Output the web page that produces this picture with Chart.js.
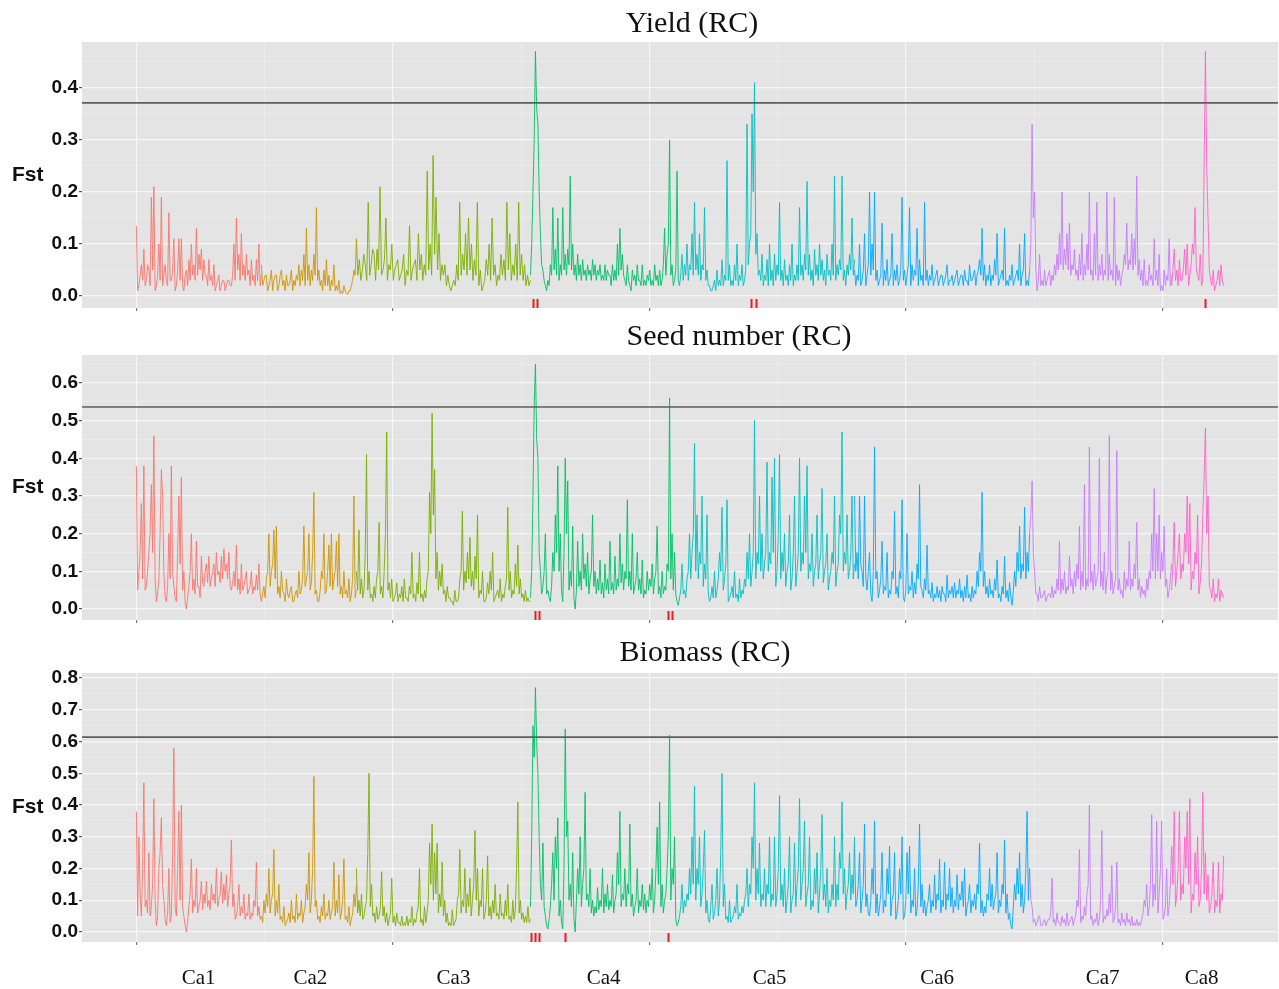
<!DOCTYPE html>
<html>
<head>
<meta charset="utf-8">
<title>Fst scan (RC)</title>
<script src="https://cdn.jsdelivr.net/npm/chart.js@4/dist/chart.umd.min.js"></script>
<style>
  html, body { margin: 0; padding: 0; background: #ffffff; }
  body { width: 1279px; height: 989px; position: relative; overflow: hidden; }
  .panel { position: absolute; left: 0; }
  canvas { display: block; }
</style>
</head>
<body>
<div class="panel" style="top:0px"><canvas id="yieldChart" width="1279" height="320"></canvas></div>
<div class="panel" style="top:320px"><canvas id="seedChart" width="1279" height="310"></canvas></div>
<div class="panel" style="top:630px"><canvas id="biomassChart" width="1279" height="359"></canvas></div>
<script>
// ---- chromosomes (genome position units, each chromosome laid end to end) ----
const chromNames  = ['Ca1', 'Ca2', 'Ca3', 'Ca4', 'Ca5', 'Ca6', 'Ca7', 'Ca8'];
const chromColors = ['#F8766D', '#CD9600', '#7CAE00', '#00BE67', '#00BFC4', '#00A9FF', '#C77CFF', '#FF61CC'];
const chromEdges  = [0, 48.73, 85.77, 153.61, 211.70, 279.92, 348.15, 403.51, 423.78];
const chromLabelAt = [24.3, 67.8, 123.6, 182.1, 246.8, 312.1, 376.6, 415.2];
const genomeLength = 423.78;
const xGridAt = [0, 50, 100, 150, 200, 250, 300, 350, 400];

// ---- Fst windows: Yield (RC) ----
const yieldCa1 = [.135,.01,.02,.04,.06,.03,.09,.02,.03,.06,.05,.02,.19,.05,.21,.01,.02,.04,.10,.03,.19,.02,.04,.06,.03,.02,.16,.03,.03,.05,.11,.01,.02,.05,.11,.03,.11,.02,.01,.04,.05,.02,.07,.03,.10,.04,.06,.03,.13,.04,.08,.05,.09,.03,.07,.04,.04,.02,.07,.03,.04,.02,.06,.01,.02,.03,.04,.01,.02,.03,.03,.01,.02,.03,.03,.02,.02,.04,.10,.03,.15,.05,.08,.03,.12,.04,.06,.03,.08,.04,.05,.02,.07,.03,.04,.02,.07,.03,.10,.02,.04];
const yieldCa2 = [.06,.02,.03,.04,.04,.01,.02,.03,.05,.01,.03,.04,.04,.01,.02,.04,.05,.02,.03,.01,.04,.02,.02,.03,.05,.01,.03,.02,.04,.03,.06,.02,.05,.03,.08,.02,.13,.03,.06,.02,.05,.03,.08,.04,.17,.03,.05,.02,.03,.01,.05,.02,.07,.02,.04,.01,.03,.02,.06,.01,.02,.01,.03,.005,.01,.005,.02,.01,.005,.003,.01,.01,.02,.03,.05,.04,.11];
const yieldCa3 = [.11,.04,.07,.03,.05,.08,.06,.03,.18,.04,.06,.09,.08,.03,.09,.05,.21,.04,.05,.07,.15,.03,.06,.05,.10,.03,.05,.06,.07,.03,.04,.05,.08,.02,.05,.04,.135,.03,.05,.06,.07,.03,.12,.05,.08,.03,.06,.04,.24,.05,.10,.04,.27,.08,.19,.05,.12,.03,.06,.04,.06,.02,.04,.02,.01,.02,.03,.02,.06,.03,.18,.04,.08,.05,.12,.04,.15,.05,.10,.03,.07,.04,.18,.02,.05,.01,.02,.03,.07,.04,.10,.03,.15,.04,.06,.02,.04,.03,.08,.04,.07,.03,.18,.05,.12,.03,.06,.04,.10,.03,.18,.04,.08,.03,.06,.02,.04,.02,.03];
const yieldCa4 = [.04,.10,.20,.30,.47,.36,.33,.20,.12,.06,.05,.03,.02,.01,.03,.02,.06,.04,.17,.05,.09,.04,.15,.03,.06,.04,.17,.05,.08,.04,.09,.06,.23,.05,.10,.04,.06,.03,.08,.04,.06,.03,.07,.04,.05,.03,.06,.04,.05,.03,.07,.04,.06,.03,.05,.04,.06,.03,.04,.03,.06,.03,.05,.04,.04,.02,.06,.03,.05,.03,.10,.04,.13,.05,.08,.04,.03,.02,.06,.03,.02,.01,.05,.03,.04,.02,.06,.03,.03,.02,.06,.02,.03,.02,.04,.03,.05,.02,.03,.02,.06,.03,.04,.02,.05,.02,.03,.06,.13,.04,.08,.10,.30,.04,.06,.02,.03,.05,.24,.03,.02];
const yieldCa5 = [.02,.04,.08,.03,.06,.04,.10,.03,.06,.05,.12,.04,.18,.05,.08,.04,.12,.03,.06,.05,.17,.03,.05,.02,.02,.01,.01,.02,.03,.01,.05,.02,.03,.02,.07,.02,.04,.03,.26,.03,.06,.02,.03,.02,.06,.03,.10,.02,.04,.03,.06,.02,.03,.05,.33,.06,.10,.12,.35,.20,.41,.08,.12,.04,.05,.03,.08,.02,.04,.03,.07,.02,.10,.03,.05,.02,.08,.03,.06,.04,.18,.03,.05,.02,.07,.03,.04,.02,.06,.03,.10,.02,.04,.03,.06,.03,.17,.04,.06,.03,.08,.05,.22,.04,.08,.03,.05,.02,.09,.04,.06,.03,.10,.04,.07,.03,.05,.02,.08,.04,.05,.03,.10,.04,.23,.03,.06,.04,.07,.05,.23,.03,.05,.02,.06,.04,.08,.05,.15,.04,.07];
const yieldCa6 = [.05,.02,.04,.03,.10,.02,.03,.05,.12,.02,.04,.06,.20,.04,.10,.05,.20,.03,.05,.02,.03,.04,.14,.02,.05,.03,.07,.02,.03,.04,.12,.02,.05,.03,.06,.02,.03,.05,.19,.03,.05,.02,.04,.06,.17,.02,.06,.03,.05,.04,.13,.02,.07,.03,.04,.02,.18,.03,.05,.02,.04,.03,.06,.02,.03,.04,.05,.02,.03,.04,.04,.02,.03,.04,.06,.02,.03,.03,.04,.02,.03,.04,.05,.02,.03,.04,.04,.02,.05,.03,.03,.02,.06,.03,.03,.04,.05,.02,.04,.05,.07,.04,.13,.03,.06,.02,.04,.03,.06,.02,.04,.03,.07,.04,.12,.02,.03,.04,.05,.03,.13,.02,.03,.02,.04,.03,.06,.02,.03,.04,.05,.03,.10,.02,.04,.05,.12,.02,.03,.02,.05];
const yieldCa7 = [.05,.10,.33,.15,.20,.05,.01,.03,.08,.02,.03,.02,.05,.02,.03,.04,.05,.02,.04,.03,.06,.04,.08,.05,.12,.06,.20,.05,.09,.06,.12,.05,.14,.04,.06,.05,.09,.04,.05,.03,.08,.04,.12,.03,.06,.04,.10,.05,.20,.04,.05,.03,.12,.04,.18,.03,.06,.04,.08,.03,.05,.04,.20,.03,.08,.04,.05,.03,.19,.02,.06,.03,.05,.02,.04,.05,.08,.06,.14,.05,.07,.06,.12,.05,.11,.06,.23,.04,.07,.03,.05,.02,.07,.02,.03,.02,.06,.03,.04,.02,.11,.03,.05,.02,.08,.01,.02,.01,.05,.02,.04,.03,.11,.02,.04];
const yieldCa8 = [.02,.05,.09,.03,.05,.02,.07,.03,.03,.05,.09,.04,.10,.02,.04,.06,.10,.08,.17,.05,.04,.03,.08,.02,.03,.25,.47,.25,.15,.05,.03,.02,.05,.01,.02,.03,.05,.02,.06,.03,.02];
const yieldHits = [154.7, 156.2, 239.6, 241.6, 416.6];
const yieldThreshold = 0.371;

// ---- Fst windows: Seed number (RC) ----
const seedCa1 = [.38,.05,.10,.15,.28,.08,.38,.05,.06,.10,.15,.20,.33,.15,.46,.08,.02,.04,.08,.20,.37,.30,.10,.03,.02,.06,.20,.08,.38,.10,.06,.03,.02,.15,.30,.12,.35,.05,.10,.02,.00,.03,.06,.10,.20,.05,.08,.04,.18,.06,.06,.03,.14,.07,.06,.10,.12,.07,.14,.06,.08,.10,.12,.06,.15,.09,.10,.07,.14,.08,.16,.10,.12,.08,.15,.06,.05,.07,.10,.06,.17,.05,.08,.04,.12,.05,.06,.08,.10,.04,.05,.06,.10,.04,.06,.05,.09,.05,.12,.04,.02];
const seedCa2 = [.02,.04,.06,.03,.08,.10,.20,.06,.10,.12,.21,.08,.22,.04,.06,.03,.10,.05,.04,.02,.08,.04,.03,.05,.06,.02,.02,.04,.05,.03,.10,.04,.05,.08,.22,.06,.08,.10,.20,.05,.07,.15,.31,.04,.05,.02,.02,.05,.10,.08,.20,.04,.05,.10,.17,.06,.20,.05,.08,.10,.18,.06,.20,.04,.06,.03,.10,.04,.05,.03,.08,.02,.04,.08,.30,.03,.05];
const seedCa3 = [.10,.05,.21,.04,.08,.03,.05,.15,.41,.05,.10,.03,.04,.02,.06,.03,.08,.10,.23,.04,.06,.03,.10,.20,.47,.05,.07,.03,.08,.02,.03,.04,.07,.02,.04,.03,.06,.02,.08,.03,.03,.02,.06,.04,.15,.03,.04,.02,.07,.04,.15,.03,.04,.02,.05,.03,.08,.10,.31,.20,.52,.25,.37,.08,.15,.05,.10,.06,.12,.04,.05,.02,.06,.03,.03,.02,.02,.01,.05,.02,.02,.03,.08,.10,.26,.05,.10,.07,.15,.08,.19,.06,.10,.05,.14,.08,.25,.03,.05,.04,.10,.02,.02,.03,.07,.04,.10,.05,.15,.02,.03,.04,.05,.03,.08,.02,.04,.03,.06,.08,.27,.05,.10,.03,.05,.04,.12,.06,.17,.04,.08,.03,.04,.02,.05,.02,.03,.02,.02];
const seedCa4 = [.03,.10,.30,.54,.65,.45,.40,.15,.10,.04,.06,.10,.20,.04,.05,.03,.02,.06,.15,.10,.25,.15,.38,.10,.20,.05,.02,.15,.40,.20,.34,.05,.10,.06,.22,.03,.00,.05,.18,.06,.10,.05,.20,.08,.12,.06,.15,.04,.08,.10,.25,.06,.10,.04,.08,.05,.13,.04,.07,.03,.12,.05,.08,.04,.18,.05,.07,.04,.14,.05,.08,.06,.20,.07,.12,.05,.10,.08,.29,.06,.10,.05,.20,.04,.06,.08,.15,.05,.08,.04,.13,.03,.05,.04,.10,.05,.08,.06,.12,.04,.08,.10,.22,.04,.06,.03,.10,.04,.06,.05,.12,.10,.56,.08,.20,.05,.15,.04,.02,.01,.03];
const seedCa5 = [.03,.05,.12,.04,.05,.03,.08,.10,.20,.08,.15,.20,.44,.10,.25,.08,.15,.12,.30,.06,.12,.08,.25,.04,.02,.03,.06,.03,.10,.03,.05,.08,.15,.10,.27,.05,.08,.12,.29,.02,.03,.04,.06,.03,.10,.03,.04,.02,.08,.03,.05,.04,.08,.06,.15,.08,.20,.06,.10,.15,.50,.08,.15,.12,.30,.10,.20,.08,.12,.15,.39,.10,.15,.12,.35,.15,.40,.06,.10,.20,.41,.08,.15,.10,.20,.06,.10,.12,.25,.05,.08,.15,.30,.06,.10,.15,.40,.10,.15,.12,.30,.15,.38,.08,.12,.10,.20,.06,.10,.12,.25,.08,.12,.15,.32,.07,.10,.12,.20,.05,.08,.10,.15,.12,.30,.06,.10,.12,.25,.20,.47,.10,.15,.12,.25,.08,.10,.15,.30,.08,.12];
const seedCa6 = [.30,.10,.15,.08,.30,.12,.10,.06,.30,.08,.05,.10,.15,.04,.02,.10,.43,.08,.10,.03,.05,.08,.18,.04,.06,.05,.15,.03,.05,.04,.10,.08,.26,.04,.06,.03,.10,.08,.29,.03,.02,.05,.20,.04,.06,.05,.10,.03,.07,.04,.12,.08,.33,.06,.05,.03,.08,.05,.17,.04,.05,.03,.07,.02,.04,.03,.06,.03,.05,.02,.06,.04,.04,.02,.09,.03,.05,.04,.06,.03,.07,.03,.05,.04,.08,.03,.05,.02,.06,.03,.09,.03,.04,.02,.06,.03,.05,.04,.10,.06,.15,.10,.31,.06,.10,.04,.06,.03,.08,.04,.05,.03,.08,.05,.13,.03,.04,.02,.06,.04,.14,.03,.05,.02,.07,.03,.01,.05,.10,.06,.15,.10,.22,.08,.12,.10,.27,.08,.15,.10,.20];
const seedCa7 = [.20,.25,.34,.15,.10,.04,.04,.02,.06,.03,.03,.04,.05,.02,.03,.04,.04,.03,.06,.03,.05,.04,.08,.05,.18,.04,.08,.05,.10,.04,.06,.05,.14,.06,.08,.04,.10,.06,.12,.08,.22,.05,.10,.06,.33,.05,.08,.06,.43,.07,.10,.05,.12,.06,.08,.10,.40,.06,.10,.05,.15,.04,.08,.10,.46,.05,.10,.04,.06,.08,.42,.05,.08,.04,.05,.03,.10,.05,.08,.06,.18,.05,.08,.06,.12,.08,.23,.05,.08,.03,.06,.04,.05,.03,.08,.05,.10,.08,.20,.10,.32,.08,.20,.10,.25,.08,.15,.10,.22,.06,.08,.03,.05,.08,.12];
const seedCa8 = [.05,.12,.23,.06,.10,.15,.20,.08,.12,.10,.20,.15,.30,.12,.28,.05,.10,.08,.15,.12,.25,.04,.07,.12,.25,.35,.48,.20,.30,.06,.05,.03,.08,.02,.04,.03,.08,.02,.05,.04,.03];
const seedHits = [155.2, 157.1, 207.1, 208.7];
const seedThreshold = 0.536;

// ---- Fst windows: Biomass (RC) ----
const bioCa1 = [.38,.05,.30,.12,.05,.20,.47,.08,.10,.06,.25,.05,.08,.15,.42,.10,.02,.05,.20,.25,.36,.15,.10,.04,.02,.06,.20,.03,.05,.25,.58,.08,.05,.20,.38,.10,.40,.08,.05,.02,.00,.03,.08,.12,.23,.06,.10,.08,.20,.06,.08,.10,.16,.07,.12,.09,.16,.08,.10,.07,.15,.10,.12,.09,.20,.08,.10,.12,.19,.09,.15,.10,.18,.08,.12,.15,.29,.08,.12,.04,.05,.08,.15,.05,.08,.06,.12,.04,.06,.05,.12,.04,.06,.05,.10,.08,.22,.05,.08,.04,.05];
const bioCa2 = [.05,.03,.10,.06,.12,.08,.20,.06,.10,.12,.26,.05,.10,.06,.15,.04,.05,.03,.08,.02,.03,.04,.06,.03,.10,.04,.05,.03,.12,.04,.06,.05,.10,.03,.06,.08,.15,.10,.25,.06,.10,.20,.49,.08,.10,.04,.05,.03,.08,.05,.12,.04,.06,.05,.10,.04,.06,.08,.22,.05,.10,.06,.18,.04,.06,.10,.23,.04,.05,.03,.08,.02,.04,.06,.12,.08,.15];
const bioCa3 = [.20,.06,.10,.05,.12,.04,.05,.08,.10,.25,.50,.08,.15,.05,.06,.03,.08,.04,.05,.08,.19,.05,.08,.03,.06,.02,.04,.06,.17,.03,.05,.02,.06,.03,.03,.02,.05,.02,.03,.02,.05,.02,.04,.03,.08,.02,.04,.03,.06,.08,.20,.03,.04,.02,.08,.03,.06,.10,.28,.15,.34,.10,.25,.12,.28,.06,.12,.08,.22,.05,.10,.03,.06,.02,.03,.02,.07,.02,.03,.04,.10,.12,.26,.06,.10,.08,.20,.06,.12,.08,.17,.05,.10,.15,.32,.10,.20,.05,.10,.08,.20,.04,.06,.10,.24,.05,.08,.04,.10,.06,.15,.05,.06,.04,.12,.05,.06,.04,.10,.05,.15,.04,.05,.03,.10,.04,.07,.20,.41,.06,.10,.04,.06,.03,.05,.03,.08,.03,.04];
const bioCa4 = [.08,.30,.65,.55,.77,.60,.50,.30,.15,.10,.28,.08,.05,.02,.01,.04,.08,.15,.25,.10,.30,.20,.36,.05,.10,.03,.01,.20,.64,.30,.35,.10,.15,.08,.25,.04,.00,.10,.20,.12,.30,.08,.15,.20,.44,.10,.12,.08,.20,.06,.10,.05,.08,.06,.14,.07,.10,.08,.20,.06,.12,.08,.15,.07,.10,.08,.18,.06,.10,.12,.25,.15,.38,.08,.12,.10,.20,.08,.15,.12,.34,.08,.12,.05,.08,.10,.20,.06,.10,.08,.15,.07,.12,.06,.10,.08,.15,.10,.20,.06,.10,.20,.33,.15,.41,.08,.15,.06,.10,.12,.20,.30,.62,.10,.20,.15,.30,.04,.02,.03,.05];
const bioCa5 = [.05,.08,.15,.06,.10,.08,.12,.10,.20,.12,.30,.15,.46,.10,.20,.15,.30,.08,.12,.20,.32,.06,.10,.04,.03,.08,.15,.04,.06,.10,.20,.05,.10,.25,.50,.08,.15,.04,.05,.03,.10,.03,.04,.05,.08,.06,.15,.04,.06,.05,.08,.06,.10,.12,.20,.08,.15,.12,.30,.20,.47,.10,.20,.12,.28,.08,.12,.10,.20,.08,.15,.12,.30,.08,.12,.10,.30,.08,.12,.20,.43,.10,.15,.08,.20,.06,.10,.15,.30,.06,.10,.12,.28,.08,.15,.20,.42,.10,.15,.20,.35,.08,.12,.15,.30,.07,.10,.08,.20,.12,.25,.06,.12,.20,.37,.10,.15,.08,.20,.06,.10,.08,.15,.10,.30,.08,.15,.10,.25,.20,.41,.12,.20,.07,.12,.15,.25,.10,.18,.12,.30];
const bioCa6 = [.28,.08,.10,.15,.25,.06,.10,.15,.34,.08,.12,.06,.05,.10,.20,.12,.35,.06,.12,.05,.08,.12,.25,.06,.10,.08,.20,.12,.27,.05,.10,.12,.25,.04,.06,.10,.20,.12,.30,.04,.05,.10,.25,.12,.27,.06,.10,.08,.20,.05,.07,.15,.34,.08,.15,.06,.10,.05,.08,.10,.15,.06,.10,.08,.18,.07,.12,.10,.23,.06,.10,.08,.22,.07,.12,.10,.20,.08,.14,.06,.10,.08,.18,.07,.12,.10,.16,.08,.20,.05,.08,.10,.15,.06,.10,.08,.12,.07,.15,.12,.28,.06,.10,.05,.08,.06,.12,.10,.20,.08,.15,.07,.10,.12,.25,.06,.10,.08,.15,.12,.29,.06,.12,.04,.06,.02,.01,.08,.15,.10,.20,.12,.25,.08,.15,.06,.10,.20,.38,.10,.20];
const bioCa7 = [.20,.10,.08,.03,.04,.02,.03,.05,.05,.02,.02,.03,.04,.02,.03,.04,.04,.06,.17,.03,.04,.02,.06,.03,.03,.02,.05,.03,.04,.02,.06,.02,.03,.04,.05,.02,.04,.05,.10,.08,.26,.03,.05,.04,.08,.05,.12,.15,.40,.04,.05,.02,.04,.03,.06,.02,.04,.10,.32,.03,.05,.04,.07,.05,.12,.06,.21,.03,.04,.08,.22,.03,.04,.02,.06,.03,.04,.02,.06,.03,.04,.02,.05,.02,.03,.02,.04,.02,.03,.02,.04,.06,.10,.08,.15,.05,.08,.15,.37,.08,.15,.10,.35,.06,.12,.20,.35,.04,.05,.08,.20,.05,.08,.15,.27];
const bioCa8 = [.27,.15,.38,.08,.12,.20,.38,.10,.15,.12,.30,.20,.38,.15,.42,.06,.12,.10,.25,.15,.30,.08,.10,.20,.44,.12,.25,.10,.18,.06,.08,.12,.22,.06,.10,.08,.22,.06,.12,.10,.24];
const bioHits = [153.9, 155.4, 157.1, 167.1, 207.1];
const bioThreshold = 0.614;

// ---- panel set-up ----
const panels = [
  { canvas: 'yieldChart', title: 'Yield (RC)', series: [yieldCa1, yieldCa2, yieldCa3, yieldCa4, yieldCa5, yieldCa6, yieldCa7, yieldCa8],
    threshold: yieldThreshold, hits: yieldHits, yMin: -0.023, yMax: 0.488, yTop: 0.45,
    pad: { top: 42, bottom: 12 }, titleX: 692, titleY: 32, showChromLabels: false },
  { canvas: 'seedChart', title: 'Seed number (RC)', series: [seedCa1, seedCa2, seedCa3, seedCa4, seedCa5, seedCa6, seedCa7, seedCa8],
    threshold: seedThreshold, hits: seedHits, yMin: -0.029, yMax: 0.674, yTop: 0.65,
    pad: { top: 35, bottom: 10 }, titleX: 739, titleY: 25, showChromLabels: false },
  { canvas: 'biomassChart', title: 'Biomass (RC)', series: [bioCa1, bioCa2, bioCa3, bioCa4, bioCa5, bioCa6, bioCa7, bioCa8],
    threshold: bioThreshold, hits: bioHits, yMin: -0.0315, yMax: 0.816, yTop: 0.8,
    pad: { top: 43, bottom: 47 }, titleX: 705, titleY: 31, showChromLabels: true, chromLabelY: 354 }
];

const isMajor = v => Math.round(v * 20) % 2 === 0;

// panel background, significance line, red rug, and the text around each panel
const panelDecor = {
  id: 'panelDecor',
  beforeDraw(chart, args, o) {
    const { ctx, chartArea: a } = chart;
    ctx.save();
    ctx.fillStyle = '#E4E4E4';
    ctx.fillRect(a.left, a.top, a.right - a.left, a.bottom - a.top);
    ctx.restore();
  },
  afterDatasetsDraw(chart, args, o) {
    const { ctx, chartArea: a, scales: { x, y } } = chart;
    ctx.save();
    const ty = y.getPixelForValue(o.threshold);
    ctx.strokeStyle = '#5E5E5E';
    ctx.lineWidth = 1.6;
    ctx.beginPath();
    ctx.moveTo(a.left, ty);
    ctx.lineTo(a.right, ty);
    ctx.stroke();
    ctx.strokeStyle = '#EE1A24';
    ctx.lineWidth = 2;
    o.hits.forEach(h => {
      const px = Math.round(x.getPixelForValue(h)) + 0.5;
      ctx.beginPath();
      ctx.moveTo(px, a.bottom - 9);
      ctx.lineTo(px, a.bottom);
      ctx.stroke();
    });
    ctx.restore();
  },
  afterDraw(chart, args, o) {
    const { ctx, chartArea: a, scales: { x } } = chart;
    ctx.save();
    ctx.fillStyle = '#111111';
    ctx.font = '30px "Liberation Serif", "Times New Roman", serif';
    ctx.textAlign = 'center';
    ctx.textBaseline = 'alphabetic';
    ctx.fillText(o.title, o.titleX, o.titleY);

    ctx.font = 'bold 21px "Liberation Sans", Arial, sans-serif';
    ctx.textAlign = 'left';
    ctx.textBaseline = 'middle';
    ctx.fillText('Fst', 12, (a.top + a.bottom) / 2);

    if (o.showChromLabels) {
      ctx.font = '21px "Liberation Serif", "Times New Roman", serif';
      ctx.textAlign = 'center';
      ctx.textBaseline = 'alphabetic';
      chromNames.forEach((name, i) => {
        ctx.fillText(name, x.getPixelForValue(chromLabelAt[i]), o.chromLabelY);
      });
    }
    ctx.restore();
  }
};

function buildDatasets(series) {
  return series.map((vals, c) => {
    const start = chromEdges[c], end = chromEdges[c + 1];
    const step = (end - start) / (vals.length - 1);
    return {
      label: chromNames[c],
      data: vals.map((v, i) => ({ x: start + i * step, y: v })),
      borderColor: chromColors[c],
      borderWidth: 0.9,
      pointRadius: 0,
      tension: 0,
      fill: false
    };
  });
}

panels.forEach(p => {
  const yTicks = [];
  for (let k = 0; k * 0.05 <= p.yTop + 1e-9; k++) yTicks.push(+(k * 0.05).toFixed(2));

  new Chart(document.getElementById(p.canvas), {
    type: 'line',
    data: { datasets: buildDatasets(p.series) },
    options: {
      responsive: false,
      animation: false,
      events: [],
      parsing: false,
      layout: { padding: { top: p.pad.top, bottom: p.pad.bottom, left: 0, right: 1 } },
      plugins: {
        legend: { display: false },
        tooltip: { enabled: false },
        title: { display: false },
        panelDecor: {
          title: p.title, titleX: p.titleX, titleY: p.titleY,
          threshold: p.threshold, hits: p.hits,
          showChromLabels: p.showChromLabels, chromLabelY: p.chromLabelY
        }
      },
      scales: {
        x: {
          type: 'linear',
          min: -0.05 * genomeLength,
          max: 1.05 * genomeLength,
          afterBuildTicks: s => { s.ticks = xGridAt.map(v => ({ value: v })); },
          afterFit: s => { s.height = 0; s.paddingLeft = 0; s.paddingRight = 0; },
          ticks: { display: false },
          border: { display: false },
          grid: {
            drawTicks: true,
            tickLength: 3,
            tickColor: ctx => (ctx.tick && ctx.tick.value % 100 === 0) ? '#777777' : 'rgba(0,0,0,0)',
            color: ctx => (ctx.tick && ctx.tick.value % 100 === 0) ? '#F6F6F6' : '#EEEEEE',
            lineWidth: ctx => (ctx.tick && ctx.tick.value % 100 === 0) ? 1.2 : 0.7
          }
        },
        y: {
          type: 'linear',
          min: p.yMin,
          max: p.yMax,
          afterBuildTicks: s => { s.ticks = yTicks.map(v => ({ value: v })); },
          afterFit: s => { s.width = 82; s.paddingTop = 0; s.paddingBottom = 0; },
          ticks: {
            autoSkip: false,
            padding: 1,
            color: '#111111',
            font: { family: '"Liberation Sans", Arial, sans-serif', weight: 'bold', size: 19 },
            callback: v => isMajor(v) ? v.toFixed(1) : ''
          },
          border: { display: false },
          grid: {
            drawTicks: true,
            tickLength: 3,
            tickColor: ctx => (ctx.tick && isMajor(ctx.tick.value)) ? '#555555' : 'rgba(0,0,0,0)',
            color: ctx => (ctx.tick && isMajor(ctx.tick.value)) ? '#F6F6F6' : '#EEEEEE',
            lineWidth: ctx => (ctx.tick && isMajor(ctx.tick.value)) ? 1.2 : 0.7
          }
        }
      }
    },
    plugins: [panelDecor]
  });
});
</script>
</body>
</html>
